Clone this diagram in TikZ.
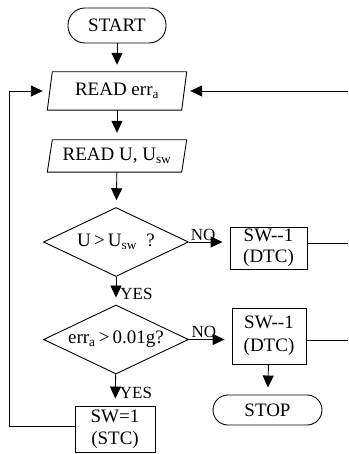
\documentclass[tikz,border=0pt]{standalone}
\usepackage{fontspec}
\setmainfont{Liberation Serif}
\usetikzlibrary{arrows.meta,shapes.geometric}
\begin{document}
\begin{tikzpicture}[x=1pt,y=-1pt,
  every node/.style={font=\fontsize{19}{21}\selectfont, inner sep=0pt},
  term/.style={draw, rounded corners=15pt, line width=0.9pt},
  iobox/.style={minimum width=134pt, minimum height=#1},
  dec/.style={draw, diamond, line width=0.9pt, minimum width=145pt, minimum height=69pt, aspect=2.1},
  proc/.style={draw, rectangle, line width=0.9pt, align=center},
  lbl/.style={font=\fontsize{17}{19}\selectfont},
  conn/.style={line width=0.9pt, -{Triangle[length=12pt,width=11pt]}, shorten >=7pt},
  line/.style={line width=0.9pt}
]
\useasboundingbox (0,0) rectangle (348,454);
% terminals
\node[term, minimum width=98pt, minimum height=35pt, rounded corners=17pt] (start) at (117,25.5) {START};
\node[term, minimum width=109pt, minimum height=30pt] (stop) at (267.5,410) {STOP};
% input/output parallelograms
\node[iobox=38pt] (rde) at (117,91) {READ err\textsubscript{a}};
\draw[line] ([xshift=2.5pt]rde.north west) -- ([xshift=2.5pt]rde.north east) -- ([xshift=-2.5pt]rde.south east) -- ([xshift=-2.5pt]rde.south west) -- cycle;
\node[iobox=32pt] (rdu) at (117,156) {READ U, U\textsubscript{sw}};
\draw[line] ([xshift=2.5pt]rdu.north west) -- ([xshift=2.5pt]rdu.north east) -- ([xshift=-2.5pt]rdu.south east) -- ([xshift=-2.5pt]rdu.south west) -- cycle;
% decisions
\node[dec] (d1) at (116,242) {U\,>\,U\textsubscript{sw}~~?};
\node[dec] (d2) at (116,339.5) {err\textsubscript{a}\,>\,0.01g?};
% process boxes
\node[proc, minimum width=77pt, minimum height=42pt] (b1) at (268.5,248) {SW-{}-1\\[0pt](DTC)};
\node[proc, minimum width=74pt, minimum height=56pt] (b2) at (269,336) {SW-{}-1\\[2pt](DTC)};
\node[proc, minimum width=80pt, minimum height=46pt] (b3) at (115,429) {SW=1\\[1pt](STC)};
% coordinates
\coordinate (L1) at (9,426);
\coordinate (L2) at (9,91);
\coordinate (R0) at (348,91);
\coordinate (R1) at (348,243);
\coordinate (R2) at (348,340);
% connectors
\draw[conn] (start) -- (rde);
\draw[conn] (rde) -- (rdu);
\draw[conn] (rdu) -- (d1);
\draw[conn] (d1.east) -- (b1.west |- d1.east) node[lbl, pos=0.35, above=1pt] {NO};
\draw[conn] (d1) -- (d2) node[lbl, pos=0.6, right=4pt] {YES};
\draw[conn] (d2.east) -- (b2.west |- d2.east) node[lbl, pos=0.35, above=1pt] {NO};
\draw[conn] (d2) -- (b3) node[lbl, pos=0.6, right=4pt] {YES};
\draw[conn] (b2) -- (stop);
\draw[line] (b3.west |- L1) -- (L1) -- (L2);
\draw[conn, shorten >=7pt] (L2) -- (rde.west);
\draw[conn, shorten >=6pt] (R0) -- (rde.east);
\draw[line] (b1.east |- R1) -- (R1);
\draw[line] (b2.east |- R2) -- (R2);
\end{tikzpicture}
\end{document}
